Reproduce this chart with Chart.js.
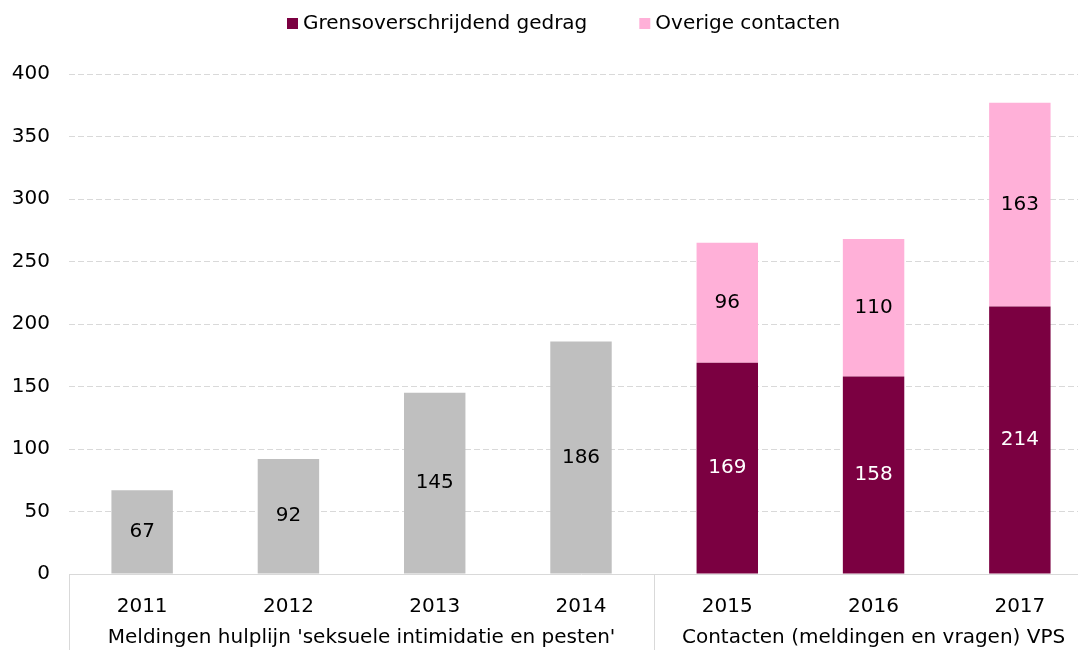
<!DOCTYPE html>
<html>
<head>
<meta charset="utf-8">
<script src="https://cdn.jsdelivr.net/npm/chart.js@4"></script>
<style>
  html, body { margin: 0; padding: 0; background: #fff; overflow: hidden; }
  #wrap { width: 1093px; height: 650px; }
</style>
</head>
<body>
<div id="wrap"><canvas id="chart"></canvas></div>
<script>
// DATA
const years = ["2011", "2012", "2013", "2014", "2015", "2016", "2017"];
const hulplijn = [67, 92, 145, 186, null, null, null];
const grensoverschrijdend = [null, null, null, null, 169, 158, 214];
const overige = [null, null, null, null, 96, 110, 163];

// GROUP LABELS UNDER THE YEARS
const groupNames = ["Meldingen hulplijn 'seksuele intimidatie en pesten'", "Contacten (meldingen en vragen) VPS"];
const groupFirst = [0, 4];
const groupLast = [3, 6];

// Y AXIS
const yMin = 0;
const yMax = 400;
const yStep = 50;

const FONT = "DejaVu Sans";
const FONT_SIZE = 20;
const GRAY = "#bfbfbf";
const MAROON = "#7b0041";
const PINK = "#ffb0d8";

// value labels inside bars
const valueLabels = {
  id: "valueLabels",
  afterDatasetsDraw(chart) {
    const ctx = chart.ctx;
    ctx.save();
    ctx.font = FONT_SIZE + "px '" + FONT + "'";
    ctx.textAlign = "center";
    ctx.textBaseline = "middle";
    chart.data.datasets.forEach((ds, i) => {
      const meta = chart.getDatasetMeta(i);
      meta.data.forEach((bar, j) => {
        const v = ds.data[j];
        if (v == null) return;
        ctx.fillStyle = ds.labelColor;
        ctx.fillText(String(v), bar.x, (bar.y + bar.base) / 2);
      });
    });
    ctx.restore();
  }
};

// separators + group names below the x axis
const groupAxis = {
  id: "groupAxis",
  afterDraw(chart) {
    const ctx = chart.ctx;
    const x = chart.scales.x;
    const half = (x.getPixelForValue(1) - x.getPixelForValue(0)) / 2;
    ctx.save();
    ctx.strokeStyle = "#d9d9d9";
    ctx.lineWidth = 1;
    const lines = [x.left];
    groupLast.forEach(i => lines.push(x.getPixelForValue(i) + half));
    lines.forEach(px => {
      const p = Math.round(px) + 0.5;
      ctx.beginPath();
      ctx.moveTo(p, x.top);
      ctx.lineTo(p, chart.height);
      ctx.stroke();
    });
    ctx.fillStyle = "#000";
    ctx.font = FONT_SIZE + "px '" + FONT + "'";
    ctx.textAlign = "center";
    ctx.textBaseline = "middle";
    groupNames.forEach((name, g) => {
      const a = x.getPixelForValue(groupFirst[g]) - half;
      const b = x.getPixelForValue(groupLast[g]) + half;
      ctx.fillText(name, (a + b) / 2, x.top + 64);
    });
    ctx.restore();
  }
};

// legend at the top
const topLegend = {
  id: "topLegend",
  afterDraw(chart) {
    const ctx = chart.ctx;
    const items = chart.data.datasets.filter(ds => ds.inLegend);
    ctx.save();
    ctx.font = FONT_SIZE + "px '" + FONT + "'";
    ctx.textBaseline = "middle";
    ctx.textAlign = "left";
    let px = 287;
    const py = 24;
    items.forEach(ds => {
      ctx.fillStyle = ds.backgroundColor;
      ctx.fillRect(px, py - 6, 11, 11);
      ctx.fillStyle = "#000";
      ctx.fillText(ds.label, px + 16, py);
      px += 16 + ctx.measureText(ds.label).width + 52;
    });
    ctx.restore();
  }
};

new Chart(document.getElementById("chart"), {
  type: "bar",
  data: {
    labels: years,
    datasets: [
      {
        label: "Meldingen hulplijn",
        data: hulplijn,
        backgroundColor: GRAY,
        labelColor: "#000",
        inLegend: false
      },
      {
        label: "Grensoverschrijdend gedrag",
        data: grensoverschrijdend,
        backgroundColor: MAROON,
        labelColor: "#fff",
        inLegend: true
      },
      {
        label: "Overige contacten",
        data: overige,
        backgroundColor: PINK,
        labelColor: "#000",
        inLegend: true
      }
    ]
  },
  options: {
    responsive: true,
    maintainAspectRatio: false,
    animation: false,
    layout: { padding: { top: 74, right: 0, left: 0, bottom: 0 } },
    datasets: {
      bar: { categoryPercentage: 1, barPercentage: 0.42, skipNull: false }
    },
    plugins: {
      legend: { display: false },
      tooltip: { enabled: false }
    },
    scales: {
      x: {
        stacked: true,
        grid: { display: false },
        border: { display: true, color: "#d9d9d9" },
        ticks: { color: "#000", font: { family: FONT, size: FONT_SIZE }, padding: 13 },
        afterFit(scale) { scale.height = 76; }
      },
      y: {
        stacked: true,
        min: yMin,
        max: yMax,
        ticks: { stepSize: yStep, color: "#000", font: { family: FONT, size: FONT_SIZE }, padding: 19 },
        grid: { color: "#d9d9d9", drawTicks: false },
        border: { display: false, dash: [6, 3] },
        afterFit(scale) { scale.width = 69; }
      }
    }
  },
  plugins: [valueLabels, groupAxis, topLegend]
});
</script>
</body>
</html>
